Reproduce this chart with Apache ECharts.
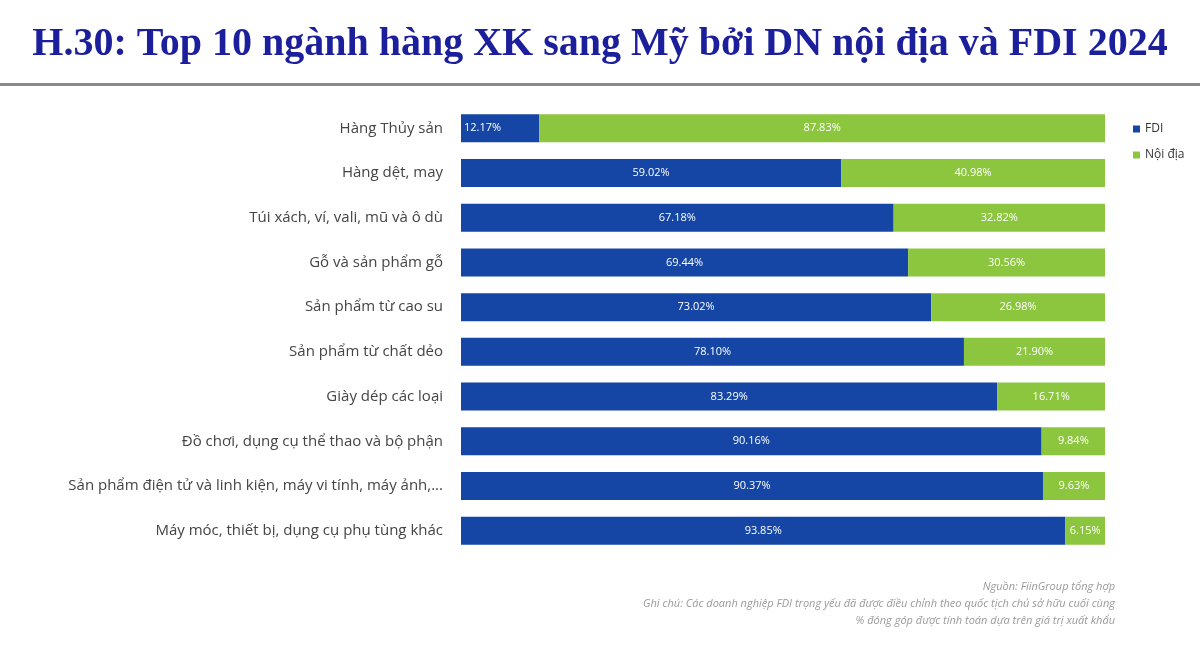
<!DOCTYPE html>
<html>
<head>
<meta charset="utf-8">
<script src="https://cdn.jsdelivr.net/npm/echarts@6/dist/echarts.min.js"></script>
<style>html,body{margin:0;padding:0;background:#fff}#chart{width:1200px;height:646px}</style>
</head>
<body>
<div id="chart"></div>
<script>
var categories = ['Hàng Thủy sản', 'Hàng dệt, may', 'Túi xách, ví, vali, mũ và ô dù', 'Gỗ và sản phẩm gỗ',
    'Sản phẩm từ cao su', 'Sản phẩm từ chất dẻo', 'Giày dép các loại', 'Đồ chơi, dụng cụ thể thao và bộ phận',
    'Sản phẩm điện tử và linh kiện, máy vi tính, máy ảnh,...', 'Máy móc, thiết bị, dụng cụ phụ tùng khác'];
var fdi = [12.17, 59.02, 67.18, 69.44, 73.02, 78.10, 83.29, 90.16, 90.37, 93.85];
var noiDia = [87.83, 40.98, 32.82, 30.56, 26.98, 21.90, 16.71, 9.84, 9.63, 6.15];

var chart = echarts.init(document.getElementById('chart'));

var labelFmt = function (p) { return p.value.toFixed(2) + '%'; };

var option = {
    title: {
        text: 'H.30: Top 10 ngành hàng XK sang Mỹ bởi DN nội địa và FDI 2024',
        left: 'center',
        top: 20,
        textStyle: { fontFamily: 'Liberation Serif', fontWeight: 'bold', fontSize: 40, color: '#1c1f9c' }
    },
    graphic: [
        { type: 'rect', shape: { x: 0, y: 83, width: 1200, height: 3 }, style: { fill: '#8a8a8a' } },
        {
            type: 'text', x: 1115, y: 578,
            style: {
                text: 'Nguồn: FiinGroup tổng hợp\nGhi chú: Các doanh nghiệp FDI trọng yếu đã được điều chỉnh theo quốc tịch chủ sở hữu cuối cùng\n% đóng góp được tính toán dựa trên giá trị xuất khẩu',
                align: 'right', fill: '#9a9a9a', font: 'italic 11px "Open Sans"', lineHeight: 17
            }
        }
    ],
    legend: {
        orient: 'vertical', left: 1128, top: 118, itemGap: 14,
        itemWidth: 7, itemHeight: 7, icon: 'rect',
        textStyle: { fontFamily: 'Open Sans', fontSize: 12, color: '#333' },
        data: ['FDI', 'Nội địa']
    },
    grid: { left: 461, right: 95, top: 106, bottom: 93 },
    xAxis: { type: 'value', min: 0, max: 100, show: false },
    yAxis: {
        type: 'category', inverse: true, data: categories,
        axisLine: { show: false }, axisTick: { show: false },
        axisLabel: { fontFamily: 'Open Sans', fontSize: 15, color: '#444', margin: 18 }
    },
    series: [
        {
            name: 'FDI', type: 'bar', stack: 'a', barWidth: 28,
            itemStyle: { color: '#1546a5' },
            data: fdi.map(function (v, i) {
                return i === 0 ? { value: v, label: { position: 'insideLeft', distance: 3 } } : v;
            }),
            label: { show: true, position: 'inside', formatter: labelFmt, color: '#fff', fontFamily: 'Open Sans', fontSize: 11 }
        },
        {
            name: 'Nội địa', type: 'bar', stack: 'a', barWidth: 28,
            itemStyle: { color: '#8cc63e' },
            data: noiDia,
            label: { show: true, position: 'inside', formatter: labelFmt, color: '#fff', fontFamily: 'Open Sans', fontSize: 11 }
        }
    ]
};

chart.setOption(option);
</script>
</body>
</html>
